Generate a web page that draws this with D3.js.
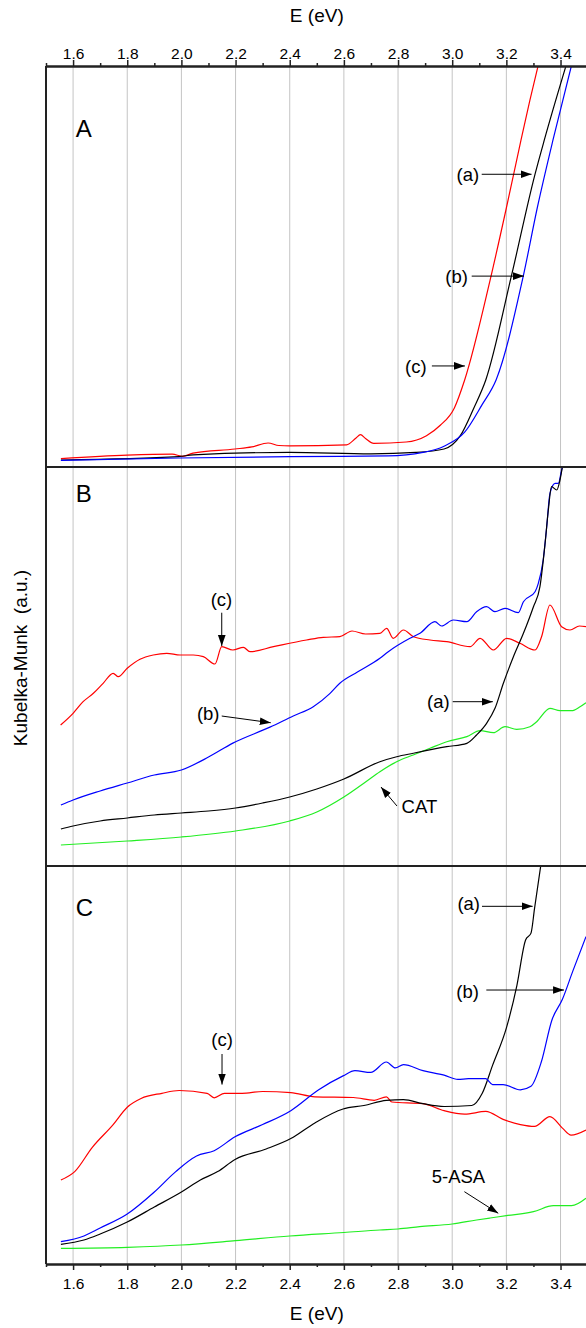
<!DOCTYPE html>
<html>
<head>
<meta charset="utf-8">
<script src="https://cdn.jsdelivr.net/npm/d3@7"></script>
<style>
  body { margin: 0; background: #fff; }
  text { font-family: Arial, "Liberation Sans", sans-serif; fill: #000; }
</style>
</head>
<body>
<svg id="chart" width="586" height="1328"></svg>
<script>
// ---- data (E in eV, Kubelka-Munk in a.u., each panel 0..100) ----
const majorTicks = [1.6, 1.8, 2.0, 2.2, 2.4, 2.6, 2.8, 3.0, 3.2, 3.4];
const minorTicks = [1.5, 1.7, 1.9, 2.1, 2.3, 2.5, 2.7, 2.9, 3.1, 3.3, 3.5];

// panel A
const aRed = [[1.555,2.07],[1.8,2.94],[1.966,3.19],[2.005,2.67],[2.043,3.47],[2.198,4.49],[2.26,5.01],[2.32,5.99],[2.36,5.36],[2.4,5.29],[2.61,5.54],[2.645,7.23],[2.661,8.05],[2.68,7.11],[2.71,5.89],[2.83,6.23],[2.905,7.81],[2.956,10.4],[3.008,14.74],[3.046,21.7],[3.14,46.6],[3.201,64.9],[3.254,81.5],[3.287,91.5],[3.317,100]];
const aBlack = [[1.555,1.75],[1.99,2.59],[2.043,3.02],[2.4,3.64],[2.7,3.29],[2.866,3.64],[2.97,4.49],[3.03,7.81],[3.08,14.74],[3.124,21.7],[3.218,47.46],[3.305,72.8],[3.34,81.5],[3.42,100]];
const aBlue = [[1.555,1.65],[1.99,2.24],[2.4,2.59],[2.763,2.77],[2.892,3.64],[2.97,5.19],[3.046,8.68],[3.111,15.61],[3.162,21.7],[3.262,47.46],[3.315,64.9],[3.372,81.5],[3.44,100]];

// panel B
const bRed = [[1.554,35.34],[1.6,38.27],[1.637,41.18],[1.675,43.28],[1.711,45.79],[1.748,48.3],[1.767,47.44],[1.8,49.55],[1.847,51.8],[1.896,52.88],[1.946,53.31],[1.995,52.88],[2.044,52.88],[2.081,52.46],[2.124,50.63],[2.149,54.96],[2.19,54.14],[2.229,54.81],[2.253,53.71],[2.34,54.96],[2.462,56.64],[2.524,57.32],[2.585,57.47],[2.63,58.9],[2.68,58.15],[2.733,58.32],[2.758,59.57],[2.782,57.07],[2.82,59.15],[2.857,57.47],[2.918,56.64],[2.98,56.22],[3.066,54.96],[3.103,57.07],[3.152,54.14],[3.201,57.07],[3.25,55.81],[3.306,54.14],[3.33,57.47],[3.361,65.41],[3.404,59.97],[3.435,59.15],[3.47,60.15],[3.494,59.97]];
const bBlue = [[1.555,15.29],[1.6,16.54],[1.7,18.8],[1.8,20.8],[1.9,22.8],[2.0,24.06],[2.1,27.3],[2.19,30.8],[2.327,34.8],[2.413,37.6],[2.487,39.92],[2.549,43.28],[2.585,45.79],[2.65,48.6],[2.733,52.06],[2.764,53.71],[2.844,57.07],[2.881,58.32],[2.936,61.23],[2.961,60.15],[3.004,61.65],[3.054,61.23],[3.09,63.73],[3.127,64.99],[3.158,63.73],[3.195,64.59],[3.244,63.48],[3.263,66.24],[3.306,68.75],[3.318,70.85],[3.336,76.69],[3.349,85.04],[3.361,93.41],[3.38,95.91],[3.392,95.91],[3.404,99.25],[3.41,100.9]];
const bBlack = [[1.555,9.27],[1.6,10.03],[1.7,11.28],[1.8,12.03],[1.9,12.78],[2.0,13.28],[2.1,13.78],[2.2,14.54],[2.3,15.79],[2.4,17.29],[2.5,19.3],[2.6,21.8],[2.733,26.14],[2.795,27.39],[2.856,28.25],[2.98,29.9],[3.054,30.75],[3.09,32.83],[3.127,35.76],[3.158,39.52],[3.189,45.79],[3.226,52.46],[3.263,58.32],[3.3,64.99],[3.324,70.0],[3.343,80.88],[3.355,89.22],[3.367,95.06],[3.386,94.24],[3.398,96.74],[3.408,100.5]];
const bGreen = [[1.555,5.26],[1.8,6.27],[2.0,7.27],[2.2,8.77],[2.4,11.28],[2.5,13.53],[2.6,17.29],[2.68,21.05],[2.733,23.63],[2.795,26.14],[2.856,27.82],[2.918,29.5],[2.98,31.15],[3.054,32.41],[3.103,33.91],[3.152,33.41],[3.195,34.91],[3.238,34.26],[3.287,34.91],[3.312,36.17],[3.361,39.52],[3.398,38.92],[3.441,38.92],[3.472,39.92],[3.494,40.93]];

// panel C
const cRed = [[1.555,21.11],[1.606,23.22],[1.671,29.32],[1.748,35.03],[1.8,39.4],[1.851,41.58],[1.928,42.89],[1.992,43.59],[2.095,42.89],[2.121,41.76],[2.159,42.89],[2.224,42.89],[2.3,43.34],[2.404,43.07],[2.493,42.01],[2.635,41.83],[2.712,41.13],[2.757,42.01],[2.777,40.7],[2.892,40.28],[2.97,38.52],[3.046,37.64],[3.124,38.34],[3.188,36.33],[3.252,35.03],[3.304,34.57],[3.361,37.04],[3.407,34.15],[3.439,32.39],[3.494,33.67]];
const cBlue = [[1.555,5.6],[1.64,7.04],[1.7,9.05],[1.8,12.56],[1.9,18.09],[1.979,23.22],[2.056,27.14],[2.121,28.47],[2.198,31.96],[2.3,35.03],[2.404,38.52],[2.507,43.77],[2.597,47.26],[2.641,48.57],[2.699,48.14],[2.757,50.75],[2.79,49.27],[2.82,50.08],[2.892,48.57],[2.97,47.44],[3.021,46.38],[3.06,46.56],[3.124,46.56],[3.149,45.08],[3.188,45.08],[3.252,43.77],[3.291,44.65],[3.329,50.75],[3.368,61.26],[3.407,66.51],[3.445,73.52],[3.494,82.26]];
const cBlack = [[1.555,4.95],[1.64,6.03],[1.7,7.54],[1.8,10.55],[1.9,14.32],[2.0,18.09],[2.07,21.11],[2.134,23.22],[2.198,26.28],[2.313,28.89],[2.404,31.51],[2.493,35.45],[2.597,38.94],[2.674,39.82],[2.757,41.13],[2.82,41.31],[2.892,40.28],[2.97,39.57],[3.072,39.82],[3.111,42.89],[3.149,49.9],[3.201,59.52],[3.239,70.03],[3.271,81.41],[3.291,83.14],[3.304,89.27],[3.33,101.5]];
const cGreen = [[1.555,3.94],[1.8,4.2],[2.0,4.77],[2.2,5.85],[2.4,7.04],[2.6,7.91],[2.733,8.54],[2.8,8.79],[2.88,9.37],[3.0,10.05],[3.09,11.06],[3.14,11.56],[3.2,12.14],[3.3,13.14],[3.374,14.65],[3.441,14.65],[3.494,16.51]];

// annotations: label, text [E, v], arrow from [E, v] to [E, v]
const aNotes = [["(a)",[3.058,72.9],[3.109,73.0],[3.293,73.0]],["(b)",[3.016,47.46],[3.072,47.6],[3.265,47.6]],["(c)",[2.866,25.0],[2.925,25.2],[3.047,25.2]]];
const bNotes = [["(c)",[2.148,66.67],[2.149,63.48],[2.149,55.14]],["(b)",[2.099,38.27],[2.149,37.59],[2.33,35.91]],["(a)",[2.949,41.18],[3.002,41.18],[3.15,41.18]],["CAT",[2.879,14.86],[2.796,15.04],[2.737,19.8]]];
const cNotes = [["(a)",[3.061,90.58],[3.11,89.87],[3.297,89.87]],["(b)",[3.057,68.52],[3.126,68.84],[3.413,68.84]],["(c)",[2.15,56.46],[2.15,52.76],[2.15,45.08]],["5-ASA",[3.023,21.93],[3.045,18.17],[3.17,12.74]]];

const panels = [
  {name: "A", top: 66, bottom: 467, series: [[aRed,"#ff0000"],[aBlack,"#000000"],[aBlue,"#0000ff"]], notes: aNotes, letterY: 62},
  {name: "B", top: 467, bottom: 866, series: [[bGreen,"#22ee22"],[bRed,"#ff0000"],[bBlue,"#0000ff"],[bBlack,"#000000"]], notes: bNotes, letterY: 26},
  {name: "C", top: 866, bottom: 1264, series: [[cGreen,"#22ee22"],[cRed,"#ff0000"],[cBlack,"#000000"],[cBlue,"#0000ff"]], notes: cNotes, letterY: 41}
];

const svg = d3.select("#chart");
const plotTop = 66, plotBottom = 1264;
const x = d3.scaleLinear().domain([1.5, 3.5]).range([46, 587.6]);

const defs = svg.append("defs");
defs.append("marker")
  .attr("id", "head")
  .attr("viewBox", "0 0 10 10")
  .attr("refX", 10).attr("refY", 5)
  .attr("markerWidth", 11).attr("markerHeight", 11)
  .attr("markerUnits", "userSpaceOnUse")
  .attr("orient", "auto")
  .append("path")
  .attr("d", "M0,1.5 L10,5 L0,8.5 Z")
  .attr("fill", "#000");

// grid lines
svg.append("g")
  .selectAll("line")
  .data(majorTicks)
  .enter().append("line")
  .attr("x1", d => x(d)).attr("x2", d => x(d))
  .attr("y1", plotTop).attr("y2", plotBottom)
  .attr("stroke", "#c4c4c4")
  .attr("stroke-width", 1);

// panels
panels.forEach((p, i) => {
  const y = d3.scaleLinear().domain([0, 100]).range([p.bottom, p.top]);
  const clipId = "clip" + i;
  defs.append("clipPath").attr("id", clipId)
    .append("rect")
    .attr("x", x(1.5)).attr("y", p.top)
    .attr("width", x(3.5) - x(1.5)).attr("height", p.bottom - p.top);

  const line = d3.line()
    .x(d => x(d[0]))
    .y(d => y(d[1]))
    .curve(d3.curveMonotoneX);

  const g = svg.append("g").attr("clip-path", `url(#${clipId})`);
  p.series.forEach(s => {
    g.append("path")
      .attr("d", line(s[0]))
      .attr("fill", "none")
      .attr("stroke", s[1])
      .attr("stroke-width", 1.2);
  });

  // annotations
  p.notes.forEach(n => {
    svg.append("line")
      .attr("x1", x(n[2][0])).attr("y1", y(n[2][1]))
      .attr("x2", x(n[3][0])).attr("y2", y(n[3][1]))
      .attr("stroke", "#000")
      .attr("stroke-width", 1)
      .attr("marker-end", "url(#head)");
    svg.append("text")
      .attr("x", x(n[1][0])).attr("y", y(n[1][1]))
      .attr("text-anchor", "middle")
      .attr("dominant-baseline", "central")
      .style("font-size", "18.5px")
      .text(n[0]);
  });

  svg.append("text")
    .attr("x", x(1.61)).attr("y", p.top + p.letterY)
    .attr("dominant-baseline", "central")
    .style("font-size", "24px")
    .text(p.name);

  // panel top border
  if (i > 0) {
    svg.append("line")
      .attr("x1", x(1.5)).attr("x2", 586)
      .attr("y1", p.top).attr("y2", p.top)
      .attr("stroke", "#222").attr("stroke-width", 2);
  }
});

// left frame
svg.append("line")
  .attr("x1", x(1.5)).attr("x2", x(1.5))
  .attr("y1", plotTop).attr("y2", plotBottom)
  .attr("stroke", "#222").attr("stroke-width", 2);

// top and bottom axes
const topAxis = svg.append("g").attr("transform", `translate(0,${plotTop})`)
  .call(d3.axisTop(x).tickValues(majorTicks).tickFormat(d3.format(".1f")).tickSize(6).tickSizeOuter(0));
const topMinor = svg.append("g").attr("transform", `translate(0,${plotTop})`)
  .call(d3.axisTop(x).tickValues(minorTicks).tickFormat("").tickSize(3).tickSizeOuter(0));
const botAxis = svg.append("g").attr("transform", `translate(0,${plotBottom})`)
  .call(d3.axisBottom(x).tickValues(majorTicks).tickFormat(d3.format(".1f")).tickSize(6).tickSizeOuter(0));
const botMinor = svg.append("g").attr("transform", `translate(0,${plotBottom})`)
  .call(d3.axisBottom(x).tickValues(minorTicks).tickFormat("").tickSize(3).tickSizeOuter(0));

[topAxis, topMinor, botAxis, botMinor].forEach(a => {
  a.select(".domain").attr("stroke", "#222").attr("stroke-width", 2);
  a.selectAll(".tick line").attr("stroke", "#222").attr("stroke-width", 1.5);
  a.selectAll("text").style("font-size", "15.5px").style("font-family", "Arial, 'Liberation Sans', sans-serif").attr("fill", "#000");
});
topAxis.selectAll("text").attr("dy", "0.1em");
botAxis.selectAll("text").attr("dy", "1.05em");

// axis titles
const midX = (x(1.5) + x(3.5)) / 2;
svg.append("text").attr("x", midX).attr("y", 22)
  .attr("text-anchor", "middle").style("font-size", "19px").text("E (eV)");
svg.append("text").attr("x", midX).attr("y", 1320)
  .attr("text-anchor", "middle").style("font-size", "19px").text("E (eV)");
svg.append("text")
  .attr("transform", "translate(27,658) rotate(-90)")
  .attr("text-anchor", "middle")
  .style("font-size", "19px")
  .style("white-space", "pre")
  .text("Kubelka-Munk  (a.u.)");
</script>
</body>
</html>
